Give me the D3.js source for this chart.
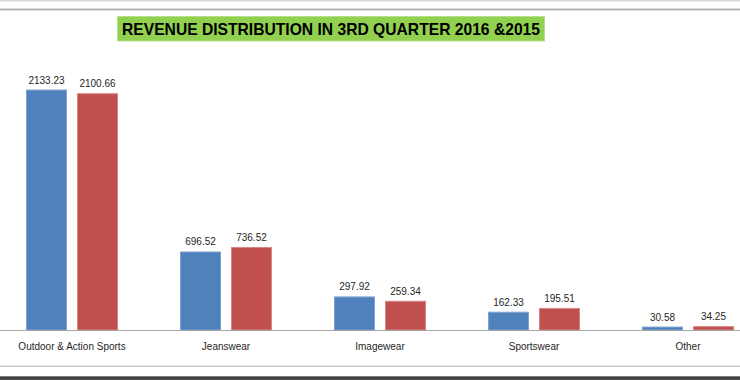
<!DOCTYPE html>
<html>
<head>
<meta charset="utf-8">
<script src="https://cdn.jsdelivr.net/npm/d3@7"></script>
<style>
  html, body { margin: 0; padding: 0; background: #fff; }
  svg { display: block; }
</style>
</head>
<body>
<svg id="chart" width="740" height="380"></svg>
<script>
const title = "REVENUE DISTRIBUTION IN 3RD QUARTER 2016 &2015";
const categories = ["Outdoor & Action Sports", "Jeanswear", "Imagewear", "Sportswear", "Other"];
const seriesNames = ["2016", "2015"];
const values2016 = [2133.23, 696.52, 297.92, 162.33, 30.58];
const values2015 = [2100.66, 736.52, 259.34, 195.51, 34.25];
const colors = ["#4F81BD", "#C0504D"];
const borders = ["#7EA3D0", "#D98583"];

const svg = d3.select("#chart");

// frame lines (screenshot chrome)
svg.append("rect").attr("x", 0).attr("y", 0).attr("width", 740).attr("height", 1.5).attr("fill", "#d9d9d9");
svg.append("rect").attr("x", 0).attr("y", 8.5).attr("width", 740).attr("height", 2).attr("fill", "#b3b3b3");
svg.append("rect").attr("x", 0).attr("y", 365.5).attr("width", 740).attr("height", 1.5).attr("fill", "#c8c8c8");
const grad = svg.append("defs").append("linearGradient").attr("id", "bot").attr("x1", 0).attr("y1", 0).attr("x2", 0).attr("y2", 1);
grad.append("stop").attr("offset", 0).attr("stop-color", "#9a9a9a");
grad.append("stop").attr("offset", 0.4).attr("stop-color", "#3a3a3a");
grad.append("stop").attr("offset", 1).attr("stop-color", "#555");
svg.append("rect").attr("x", 0).attr("y", 376).attr("width", 740).attr("height", 4).attr("fill", "url(#bot)");

// scales
const x0 = d3.scaleBand().domain(categories).range([-5, 765]).padding(0);
const x1 = d3.scaleBand().domain(seriesNames).range([31, 123]).paddingInner(0.196);
const y = d3.scaleLinear().domain([0, 2500]).range([330, 48.2]);

const data = categories.map((c, i) => ({ cat: c, vals: [values2016[i], values2015[i]] }));

const groups = svg.append("g").selectAll("g").data(data).join("g")
  .attr("transform", d => `translate(${x0(d.cat)},0)`);

groups.selectAll("rect").data(d => d.vals.map((v, j) => ({ v, s: seriesNames[j], j })))
  .join("rect")
  .attr("x", d => x1(d.s) + 0.5)
  .attr("y", d => y(d.v) + 0.5)
  .attr("width", x1.bandwidth() - 1)
  .attr("height", d => y(0) - y(d.v) - 0.5)
  .attr("fill", d => colors[d.j])
  .attr("stroke", d => borders[d.j])
  .attr("stroke-width", 1);

groups.selectAll("text").data(d => d.vals.map((v, j) => ({ v, s: seriesNames[j], j })))
  .join("text")
  .attr("x", d => x1(d.s) + x1.bandwidth() / 2)
  .attr("y", d => y(d.v) - 6)
  .attr("text-anchor", "middle")
  .attr("font-family", "'Liberation Sans', Arial, sans-serif")
  .attr("font-size", 10)
  .attr("fill", "#262626")
  .text(d => d.v.toFixed(2));

// category axis
const xAxis = d3.axisBottom(x0).tickSize(0).tickPadding(0);
const ax = svg.append("g").attr("transform", "translate(0,330)").call(xAxis);
ax.select(".domain").remove();
ax.selectAll("text")
  .attr("y", 20)
  .attr("dy", 0)
  .attr("font-family", "'Liberation Sans', Arial, sans-serif")
  .attr("font-size", 10)
  .attr("fill", "#262626");
svg.append("line").attr("x1", 0).attr("x2", 740).attr("y1", 330.5).attr("y2", 330.5)
  .attr("stroke", "#a6a6a6").attr("stroke-width", 1);

// title
svg.append("rect").attr("x", 117.5).attr("y", 16.5).attr("width", 427).attr("height", 24.5)
  .attr("fill", "#92D050").attr("stroke", "#b5e08a").attr("stroke-width", 1);
svg.append("text")
  .attr("x", 122).attr("y", 35)
  .attr("font-family", "'Liberation Sans Narrow', 'Liberation Sans', Arial, sans-serif")
  .attr("font-weight", "bold")
  .attr("font-size", 17)
  .attr("fill", "#000")
  .attr("textLength", 418)
  .attr("lengthAdjust", "spacingAndGlyphs")
  .text(title);
</script>
</body>
</html>
